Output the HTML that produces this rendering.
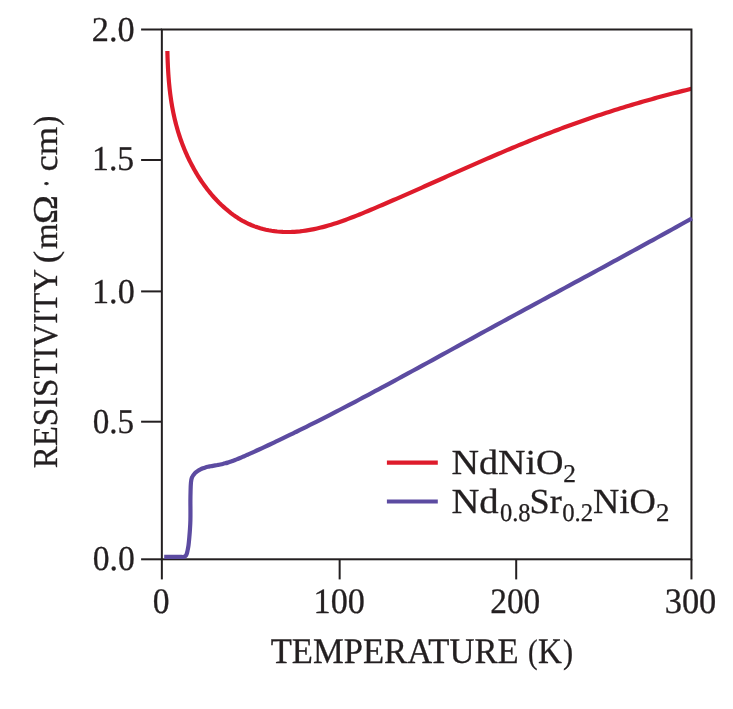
<!DOCTYPE html>
<html lang="en">
<head>
<meta charset="utf-8">
<title>Resistivity versus temperature</title>
<style>
html,body{margin:0;padding:0;background:#fff;}
body{width:733px;height:709px;overflow:hidden;}
svg{display:block;}
text{font-family:"Liberation Serif","DejaVu Serif",serif;text-rendering:geometricPrecision;fill:#231f20;stroke:#231f20;stroke-width:0.30px;}
</style>
</head>
<body>
<svg width="733" height="709" viewBox="0 0 733 709">
<rect x="0" y="0" width="733" height="709" fill="#ffffff"/>
<path d="M167.37,51.00 L167.42,52.84 L167.47,54.69 L167.52,56.53 L167.58,58.37 L167.65,60.21 L167.72,62.06 L167.80,63.90 L167.88,65.74 L167.97,67.58 L168.07,69.43 L168.18,71.27 L168.29,73.11 L168.41,74.96 L168.55,76.80 L168.69,78.64 L168.83,80.48 L168.99,82.33 L169.16,84.17 L169.34,86.01 L169.53,87.85 L169.73,89.70 L169.95,91.54 L170.17,93.38 L170.41,95.22 L170.66,97.07 L170.92,98.91 L171.19,100.75 L171.48,102.60 L171.79,104.44 L172.10,106.28 L172.44,108.12 L172.78,109.97 L173.15,111.81 L173.52,113.65 L173.92,115.49 L174.33,117.34 L174.75,119.18 L175.20,121.02 L175.66,122.87 L176.14,124.71 L176.64,126.55 L177.16,128.39 L177.69,130.24 L178.24,132.08 L178.82,133.92 L179.41,135.76 L180.03,137.61 L180.66,139.45 L181.32,141.29 L182.00,143.13 L182.69,144.98 L183.42,146.82 L184.16,148.66 L184.93,150.51 L185.71,152.35 L186.53,154.19 L187.36,156.03 L188.23,157.88 L189.11,159.72 L190.02,161.56 L190.96,163.40 L191.92,165.25 L192.90,167.09 L193.92,168.93 L194.96,170.78 L196.03,172.62 L197.13,174.46 L198.26,176.30 L199.43,178.15 L200.63,179.99 L201.87,181.83 L203.14,183.67 L204.46,185.52 L205.82,187.36 L207.22,189.20 L208.67,191.04 L210.17,192.89 L211.71,194.73 L212.00,195.07 L214.36,197.75 L216.73,200.29 L219.09,202.69 L221.45,204.97 L223.82,207.15 L226.18,209.23 L228.55,211.21 L230.91,213.09 L233.27,214.88 L235.64,216.56 L238.00,218.12 L240.37,219.58 L243.20,221.20 L246.04,222.68 L248.88,224.03 L251.71,225.26 L254.55,226.36 L257.39,227.35 L260.22,228.24 L263.06,229.01 L265.90,229.69 L268.73,230.27 L271.57,230.77 L274.41,231.18 L277.24,231.50 L280.08,231.74 L282.92,231.91 L285.75,231.99 L288.59,232.01 L291.43,231.95 L294.26,231.81 L297.10,231.61 L299.94,231.35 L302.77,231.02 L305.61,230.63 L308.45,230.18 L311.28,229.67 L314.12,229.11 L316.96,228.50 L319.79,227.83 L322.63,227.12 L325.47,226.36 L328.30,225.56 L331.14,224.72 L333.98,223.83 L336.81,222.91 L339.65,221.96 L342.49,220.97 L345.32,219.95 L348.16,218.90 L351.00,217.83 L353.83,216.73 L356.67,215.62 L359.51,214.48 L362.34,213.32 L365.18,212.16 L368.02,210.97 L370.85,209.78 L373.69,208.58 L376.53,207.37 L379.36,206.16 L382.20,204.95 L385.04,203.72 L387.87,202.50 L390.71,201.27 L393.55,200.04 L396.38,198.80 L399.22,197.56 L402.06,196.32 L404.89,195.07 L407.73,193.82 L410.57,192.57 L413.40,191.32 L416.24,190.07 L419.08,188.81 L421.91,187.55 L424.75,186.29 L427.59,185.03 L430.42,183.77 L433.26,182.51 L436.10,181.24 L438.93,179.98 L441.77,178.72 L444.61,177.46 L447.44,176.19 L450.28,174.93 L453.12,173.67 L455.96,172.41 L458.79,171.15 L461.63,169.90 L464.47,168.64 L467.30,167.39 L470.14,166.14 L472.98,164.89 L475.81,163.65 L478.65,162.40 L481.49,161.16 L484.32,159.93 L487.16,158.69 L490.00,157.47 L492.83,156.24 L495.67,155.02 L498.51,153.80 L501.34,152.59 L504.18,151.39 L507.02,150.18 L509.85,148.99 L512.69,147.80 L515.53,146.61 L518.36,145.43 L521.20,144.26 L524.04,143.10 L526.87,141.94 L529.71,140.78 L532.55,139.64 L535.38,138.50 L538.22,137.37 L541.06,136.25 L543.89,135.13 L546.73,134.02 L549.57,132.93 L552.40,131.84 L555.24,130.76 L558.08,129.68 L560.91,128.62 L563.75,127.57 L566.59,126.52 L569.42,125.49 L572.26,124.46 L575.10,123.44 L577.93,122.43 L580.77,121.43 L583.61,120.44 L586.44,119.46 L589.28,118.49 L592.12,117.52 L594.95,116.56 L597.79,115.61 L600.63,114.67 L603.46,113.74 L606.30,112.82 L609.14,111.90 L611.97,111.00 L614.81,110.10 L617.65,109.21 L620.48,108.33 L623.32,107.45 L626.16,106.59 L628.99,105.73 L631.83,104.88 L634.67,104.04 L637.50,103.20 L640.34,102.38 L643.18,101.56 L646.01,100.75 L648.85,99.94 L651.69,99.15 L654.52,98.36 L657.36,97.58 L660.20,96.81 L663.03,96.05 L665.87,95.29 L668.71,94.54 L671.54,93.80 L674.38,93.06 L677.22,92.34 L680.05,91.62 L682.89,90.90 L685.73,90.20 L688.56,89.50 L691.40,88.81" fill="none" stroke="#de1b2b" stroke-width="4.20" stroke-linejoin="round"/>
<g stroke="#231f20" stroke-width="2.00" fill="none">
<rect x="161.85" y="29.50" width="529.60" height="529.80"/>
<line x1="141.1" y1="29.50" x2="161.85" y2="29.50"/>
<line x1="141.1" y1="160.00" x2="161.85" y2="160.00"/>
<line x1="141.1" y1="291.40" x2="161.85" y2="291.40"/>
<line x1="141.1" y1="421.70" x2="161.85" y2="421.70"/>
<line x1="141.1" y1="559.30" x2="161.85" y2="559.30"/>
<line x1="161.85" y1="559.30" x2="161.85" y2="579.4"/>
<line x1="339.65" y1="559.30" x2="339.65" y2="579.4"/>
<line x1="516.20" y1="559.30" x2="516.20" y2="579.4"/>
<line x1="691.45" y1="559.30" x2="691.45" y2="579.4"/>
</g>
<path d="M164.20,556.95 C165.50,556.95 169.37,556.95 172.00,556.95 C174.63,556.95 178.07,556.96 180.00,556.95 C181.93,556.94 182.68,557.06 183.60,556.90 C184.52,556.74 184.98,556.50 185.50,556.00 C186.02,555.50 186.38,554.73 186.70,553.90 C187.02,553.07 187.15,552.42 187.45,551.00 C187.75,549.58 188.18,547.73 188.50,545.40 C188.82,543.07 189.10,539.82 189.35,537.00 C189.60,534.18 189.82,531.33 190.00,528.50 C190.18,525.67 190.33,523.08 190.40,520.00 C190.47,516.92 190.45,513.17 190.45,510.00 C190.45,506.83 190.38,504.00 190.40,501.00 C190.42,498.00 190.47,494.97 190.55,492.00 C190.63,489.03 190.68,485.60 190.90,483.20 C191.12,480.80 191.18,479.32 191.90,477.60 C192.62,475.88 194.18,474.04 195.20,472.90 C196.22,471.76 197.12,471.37 198.00,470.78 C198.88,470.20 199.65,469.81 200.48,469.40 C201.30,468.99 202.13,468.63 202.95,468.31 C203.78,467.99 204.60,467.72 205.43,467.47 C206.25,467.22 207.08,467.01 207.90,466.81 C208.73,466.61 209.56,466.45 210.38,466.28 C211.21,466.12 212.03,465.97 212.86,465.83 C213.68,465.68 214.51,465.55 215.33,465.40 C216.16,465.26 216.98,465.12 217.81,464.97 C218.63,464.82 219.46,464.67 220.29,464.50 C221.11,464.32 221.94,464.14 222.76,463.95 C223.59,463.76 224.41,463.55 225.24,463.33 C226.06,463.11 226.89,462.87 227.71,462.62 C228.54,462.37 229.37,462.10 230.19,461.83 C231.02,461.55 231.84,461.25 232.67,460.95 C233.49,460.65 234.32,460.33 235.14,460.01 C235.97,459.69 236.79,459.35 237.62,459.01 C238.44,458.67 239.27,458.32 240.10,457.97 C240.92,457.62 241.75,457.26 242.57,456.90 C243.40,456.54 244.22,456.18 245.05,455.81 C245.87,455.45 246.70,455.08 247.52,454.71 C248.35,454.35 248.92,454.09 250.00,453.61 C251.08,453.12 252.48,452.49 254.00,451.80 C255.52,451.12 257.41,450.26 259.11,449.48 C260.81,448.70 262.52,447.91 264.22,447.12 C265.93,446.33 267.63,445.54 269.33,444.74 C271.04,443.94 272.74,443.14 274.44,442.33 C276.15,441.53 277.85,440.72 279.56,439.90 C281.26,439.09 282.96,438.27 284.67,437.45 C286.37,436.63 288.07,435.80 289.78,434.98 C291.48,434.15 293.19,433.32 294.89,432.48 C296.59,431.65 297.48,431.21 300.00,429.97 C302.52,428.72 306.70,426.64 310.00,424.99 C313.30,423.34 316.53,421.71 319.79,420.05 C323.06,418.40 326.32,416.73 329.59,415.05 C332.85,413.38 336.12,411.69 339.38,410.00 C342.65,408.31 345.91,406.60 349.18,404.89 C352.44,403.18 355.71,401.46 358.97,399.74 C362.24,398.01 365.50,396.28 368.77,394.54 C372.03,392.80 375.30,391.06 378.56,389.31 C381.83,387.56 385.09,385.80 388.36,384.04 C391.62,382.28 394.89,380.51 398.15,378.74 C401.42,376.97 404.68,375.20 407.95,373.42 C411.21,371.64 414.48,369.86 417.74,368.08 C421.01,366.29 424.27,364.51 427.54,362.72 C430.80,360.93 434.07,359.14 437.33,357.35 C440.60,355.56 443.86,353.76 447.13,351.97 C450.39,350.18 453.66,348.39 456.92,346.59 C460.19,344.80 463.45,343.01 466.72,341.22 C469.98,339.43 473.25,337.64 476.51,335.85 C479.78,334.06 483.04,332.28 486.31,330.49 C489.57,328.71 492.84,326.93 496.10,325.15 C499.37,323.37 502.63,321.59 505.90,319.82 C509.16,318.04 512.43,316.27 515.69,314.50 C518.96,312.73 522.22,310.96 525.49,309.19 C528.75,307.42 532.02,305.65 535.28,303.89 C538.55,302.12 541.81,300.35 545.08,298.59 C548.34,296.82 551.61,295.06 554.87,293.29 C558.14,291.53 561.40,289.76 564.67,288.00 C567.93,286.23 571.20,284.47 574.46,282.70 C577.73,280.93 580.99,279.17 584.26,277.40 C587.52,275.63 590.79,273.86 594.05,272.10 C597.32,270.33 600.58,268.56 603.85,266.78 C607.11,265.01 610.38,263.24 613.64,261.46 C616.91,259.69 620.17,257.91 623.44,256.13 C626.70,254.35 629.97,252.57 633.23,250.78 C636.50,249.00 639.76,247.21 643.03,245.42 C646.29,243.63 649.56,241.84 652.82,240.04 C656.09,238.24 659.35,236.45 662.62,234.64 C665.88,232.84 669.15,231.03 672.41,229.22 C675.68,227.41 678.94,225.60 682.21,223.78 C685.47,221.96 690.37,219.22 692.00,218.31" fill="none" stroke="#5c4ba1" stroke-width="4.20" stroke-linejoin="round"/>
<line x1="386.9" y1="462.6" x2="437.8" y2="462.6" stroke="#de1b2b" stroke-width="4.1"/>
<line x1="386.9" y1="501.5" x2="437.8" y2="501.5" stroke="#5c4ba1" stroke-width="4.1"/>
<g opacity="0.999">
<text transform="translate(91.87,40.80) scale(0.9840,1)" font-size="34.90">2.0</text>
<text transform="translate(92.05,169.70) scale(0.9656,1)" font-size="34.90">1.5</text>
<text transform="translate(92.01,302.70) scale(0.9809,1)" font-size="34.90">1.0</text>
<text transform="translate(92.66,433.20) scale(0.9512,1)" font-size="34.90">0.5</text>
<text transform="translate(92.64,569.70) scale(0.9659,1)" font-size="34.90">0.0</text>
<text transform="translate(152.78,613.40) scale(0.9377,1)" font-size="35.80">0</text>
<text transform="translate(313.55,613.40) scale(0.9551,1)" font-size="35.80">100</text>
<text transform="translate(490.25,613.40) scale(0.9320,1)" font-size="35.80">200</text>
<text transform="translate(664.67,613.40) scale(0.9624,1)" font-size="35.80">300</text>
<text transform="translate(270.63,662.80) scale(0.9641,1)" font-size="35.90">TEMPERATURE</text>
<text transform="translate(528.08,662.90) scale(0.8457,1)" font-size="34.00">(</text>
<text transform="translate(537.93,662.70) scale(0.9224,1)" font-size="35.90">K</text>
<text transform="translate(563.06,662.90) scale(0.8914,1)" font-size="34.00">)</text>
<text transform="translate(451.47,474.00) scale(1.0815,1)" font-size="35.20">NdNiO</text>
<text transform="translate(563.25,482.40) scale(0.9951,1)" font-size="25.50">2</text>
<text transform="translate(451.45,513.00) scale(1.0988,1)" font-size="35.20">Nd</text>
<text transform="translate(499.89,521.20) scale(0.9600,1)" font-size="25.50">0.8</text>
<text transform="translate(529.53,513.00) scale(1.0296,1)" font-size="35.20">Sr</text>
<text transform="translate(562.18,521.20) scale(0.9729,1)" font-size="25.50">0.2</text>
<text transform="translate(593.11,513.00) scale(1.0352,1)" font-size="35.20">NiO</text>
<text transform="translate(656.00,521.20) scale(1.0537,1)" font-size="25.50">2</text>
<text transform="translate(57.00,468.19) rotate(-90) scale(0.9427,1)" font-size="34.90">RESISTIVITY</text>
<text transform="translate(57.00,263.43) rotate(-90) scale(1.1200,1)" font-size="34.00">(</text>
<text transform="translate(57.00,248.98) rotate(-90) scale(0.9778,1)" font-size="33.50">m</text>
<text transform="translate(57.00,224.00) rotate(-90) scale(1.1156,1)" font-size="34.90">Ω</text>
<text transform="translate(58.20,187.87) rotate(-90) scale(0.7250,1)" font-size="34.90">·</text>
<text transform="translate(57.00,171.41) rotate(-90) scale(1.0879,1)" font-size="33.50">cm</text>
<text transform="translate(57.00,125.63) rotate(-90) scale(0.8800,1)" font-size="34.00">)</text>
</g>
</svg>
</body>
</html>
